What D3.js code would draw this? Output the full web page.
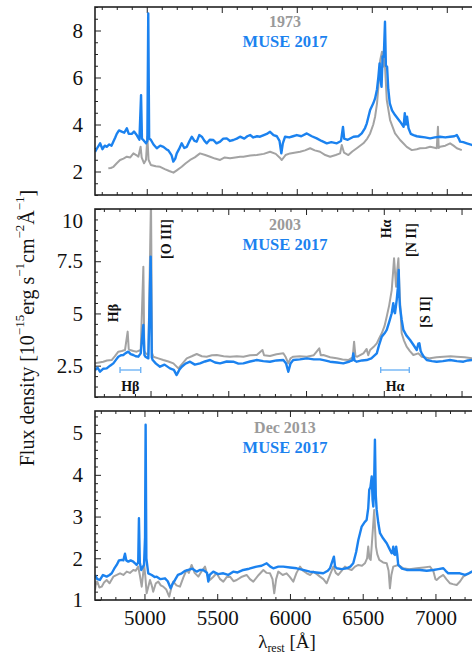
<!DOCTYPE html>
<html><head><meta charset="utf-8">
<script src="https://cdn.jsdelivr.net/npm/d3@7"></script>
<style>
body{margin:0;background:#fff;}
svg{display:block;}
text{font-family:"Liberation Serif","Times New Roman",serif;}
</style></head>
<body>
<script>
// ---------------- DATA ----------------
const xTickValues = [5000, 5500, 6000, 6500, 7000];
const yTicksP1 = [2, 4, 6, 8];
const yTicksP2 = [2.5, 5, 7.5, 10];
const yTicksP3 = [1, 2, 3, 4, 5];
const legendOld = ["1973", "2003", "Dec 2013"];
const legendNew = "MUSE 2017";

const p1Old = [[4744,2.14],[4760,2.15],[4778,2.2],[4800,2.35],[4822,2.49],[4845,2.55],[4867,2.63],[4890,2.6],[4911,2.77],[4930,2.7],[4944,2.63],[4959,3.05],[4966,2.6],[4982,2.35],[4995,2.5],[5004,3.48],[5012,2.5],[5027,2.28],[5060,2.22],[5089,2.2],[5120,2.1],[5150,2.02],[5178,1.95],[5200,2.05],[5233,2.2],[5260,2.35],[5289,2.49],[5320,2.6],[5355,2.77],[5390,2.7],[5422,2.63],[5455,2.55],[5489,2.49],[5520,2.6],[5555,2.56],[5590,2.6],[5622,2.63],[5644,2.63],[5690,2.68],[5733,2.7],[5780,2.75],[5822,2.84],[5860,2.75],[5885,2.6],[5900,2.49],[5925,2.7],[5955,2.77],[6022,2.84],[6055,2.9],[6089,2.99],[6120,2.9],[6155,2.84],[6190,2.7],[6222,2.63],[6260,2.7],[6289,2.77],[6300,3.13],[6315,2.8],[6344,2.7],[6370,2.85],[6400,2.99],[6444,3.2],[6470,3.4],[6489,3.62],[6510,4.0],[6522,4.33],[6535,4.9],[6544,5.6],[6556,6.74],[6568,7.1],[6576,6.46],[6585,6.9],[6592,6.0],[6600,5.04],[6622,4.19],[6655,3.62],[6689,3.34],[6710,3.2],[6733,3.05],[6767,2.91],[6800,2.95],[6822,2.99],[6860,3.0],[6889,3.05],[6933,2.99],[6941,3.9],[6946,3.0],[6955,3.05],[6990,3.1],[7022,3.2],[7045,3.1],[7067,2.99],[7100,2.91]];
const p1Muse = [[4655,2.84],[4670,3.0],[4689,3.2],[4705,2.95],[4720,3.1],[4733,3.05],[4750,3.15],[4765,3.1],[4777,3.27],[4790,3.45],[4800,3.6],[4815,3.75],[4833,3.7],[4850,3.65],[4867,3.84],[4880,3.6],[4900,3.6],[4915,3.7],[4933,3.55],[4951,3.35],[4962,5.25],[4968,3.4],[4977,3.34],[4995,3.2],[5004,3.3],[5010,8.73],[5016,3.4],[5027,3.35],[5045,3.15],[5067,2.99],[5090,3.1],[5111,3.05],[5130,2.95],[5144,2.9],[5165,2.7],[5177,2.42],[5190,2.55],[5200,2.77],[5215,2.95],[5233,3.2],[5250,3.0],[5267,3.05],[5285,3.3],[5300,3.48],[5318,3.3],[5333,3.27],[5350,3.55],[5367,3.48],[5385,3.3],[5400,3.2],[5420,3.35],[5444,3.34],[5465,3.2],[5489,3.27],[5510,3.4],[5533,3.41],[5555,3.3],[5577,3.34],[5600,3.4],[5622,3.48],[5650,3.4],[5670,3.5],[5689,3.55],[5710,3.45],[5735,3.5],[5755,3.48],[5780,3.55],[5800,3.6],[5822,3.69],[5845,3.55],[5867,3.5],[5885,3.3],[5897,2.77],[5907,3.2],[5922,3.48],[5950,3.45],[5975,3.5],[6000,3.55],[6030,3.5],[6067,3.62],[6100,3.5],[6133,3.41],[6165,3.3],[6200,3.2],[6230,3.25],[6267,3.2],[6295,3.3],[6308,3.9],[6316,3.4],[6340,3.35],[6378,3.48],[6410,3.5],[6433,3.62],[6455,3.85],[6467,4.05],[6489,4.62],[6510,4.9],[6522,5.11],[6535,5.5],[6544,6.03],[6552,6.6],[6558,5.9],[6565,5.6],[6572,6.9],[6580,6.88],[6588,8.37],[6594,6.5],[6602,6.46],[6610,5.5],[6620,4.9],[6635,4.6],[6655,4.4],[6689,4.12],[6712,3.9],[6720,4.48],[6727,4.0],[6735,4.33],[6745,3.84],[6760,3.6],[6778,3.55],[6800,3.5],[6822,3.48],[6855,3.45],[6889,3.41],[6920,3.45],[6955,3.48],[6990,3.45],[7022,3.48],[7050,3.5],[7067,3.55],[7080,3.4],[7089,3.27],[7110,3.25],[7133,3.2],[7167,3.13],[7200,3.1]];

const p2Old = [[4643,2.61],[4670,2.65],[4696,2.69],[4720,2.75],[4750,2.77],[4770,2.95],[4793,3.17],[4815,3.2],[4836,3.25],[4853,4.13],[4860,3.3],[4868,3.25],[4890,3.2],[4911,3.17],[4937,3.25],[4954,7.24],[4960,3.2],[4969,3.09],[4986,3.01],[5003,10.5],[5010,3.1],[5018,2.93],[5050,2.85],[5082,2.77],[5115,2.7],[5147,2.61],[5179,2.37],[5205,2.6],[5233,2.85],[5265,2.95],[5297,3.06],[5330,2.95],[5361,2.93],[5395,3.0],[5426,3.01],[5470,2.95],[5511,2.93],[5555,2.95],[5597,2.93],[5640,3.0],[5683,3.01],[5720,3.25],[5730,3.0],[5768,2.96],[5810,3.05],[5854,3.09],[5870,2.9],[5886,2.61],[5900,2.85],[5918,2.93],[5960,2.95],[6005,2.93],[6050,3.0],[6085,3.33],[6095,3.0],[6111,3.01],[6155,2.9],[6197,2.85],[6235,2.8],[6272,2.77],[6300,2.9],[6309,3.65],[6318,2.95],[6330,2.93],[6369,3.09],[6390,3.3],[6400,3.0],[6412,3.25],[6435,3.4],[6455,3.57],[6470,3.8],[6487,4.05],[6505,4.4],[6519,4.85],[6535,5.4],[6551,6.12],[6560,7.0],[6566,7.64],[6573,6.9],[6579,6.28],[6587,7.1],[6594,7.64],[6600,6.3],[6604,5.64],[6615,4.05],[6630,3.7],[6647,3.41],[6668,3.2],[6690,3.01],[6722,3.09],[6744,2.93],[6797,2.85],[6840,2.9],[6883,2.93],[6930,2.95],[6969,2.93],[7020,2.9],[7068,2.85],[7120,2.88],[7200,2.85]];
const p2Muse = [[4643,2.29],[4660,2.4],[4675,2.21],[4695,2.35],[4718,2.37],[4740,2.5],[4761,2.61],[4780,2.8],[4793,2.93],[4810,3.0],[4825,3.01],[4840,3.1],[4857,3.17],[4872,3.05],[4889,3.01],[4905,2.95],[4921,2.93],[4937,3.09],[4954,4.45],[4961,3.0],[4967,2.93],[4986,2.85],[5001,7.72],[5008,2.9],[5014,2.77],[5035,2.6],[5061,2.45],[5090,2.55],[5125,2.37],[5150,2.3],[5168,2.05],[5185,2.3],[5201,2.45],[5225,2.6],[5254,2.69],[5285,2.55],[5318,2.61],[5350,2.7],[5383,2.77],[5415,2.65],[5447,2.61],[5490,2.7],[5532,2.69],[5565,2.6],[5597,2.61],[5640,2.7],[5683,2.77],[5725,2.72],[5768,2.69],[5810,2.75],[5854,2.77],[5872,2.6],[5886,2.21],[5900,2.6],[5918,2.77],[5960,2.8],[6005,2.85],[6050,2.8],[6090,2.8],[6120,2.75],[6154,2.69],[6200,2.65],[6240,2.61],[6280,2.7],[6298,2.75],[6304,3.09],[6312,2.75],[6326,2.69],[6360,2.75],[6390,2.77],[6420,2.85],[6455,3.09],[6470,3.5],[6487,3.89],[6505,4.05],[6519,4.21],[6535,4.6],[6551,5.01],[6561,5.49],[6567,5.1],[6572,5.01],[6583,5.64],[6590,6.2],[6596,7.08],[6600,5.8],[6604,5.32],[6615,4.7],[6626,4.21],[6645,3.95],[6669,3.73],[6690,3.5],[6712,3.25],[6722,3.55],[6729,3.57],[6737,3.2],[6744,3.09],[6760,2.9],[6776,2.77],[6810,2.72],[6840,2.69],[6880,2.72],[6926,2.77],[6970,2.72],[7012,2.69],[7040,2.75],[7068,2.77],[7120,2.75],[7200,2.75]];

const p3Old = [[4660,1.24],[4668,1.44],[4676,1.44],[4690,1.3],[4706,1.32],[4722,1.42],[4740,1.48],[4760,1.4],[4786,1.56],[4810,1.6],[4832,1.64],[4855,1.6],[4878,1.68],[4900,1.65],[4923,1.72],[4940,1.7],[4957,1.8],[4968,1.6],[4981,1.32],[4990,1.6],[4997,1.88],[5005,1.6],[5015,1.16],[5025,1.3],[5038,1.48],[5050,1.35],[5060,1.2],[5078,1.4],[5095,1.44],[5112,1.35],[5129,1.32],[5150,1.25],[5170,1.08],[5185,1.3],[5198,1.44],[5220,1.35],[5244,1.32],[5268,1.55],[5290,1.72],[5305,1.65],[5324,1.84],[5345,1.65],[5370,1.56],[5395,1.7],[5416,1.8],[5432,1.6],[5450,1.48],[5472,1.55],[5496,1.64],[5520,1.5],[5542,1.44],[5565,1.55],[5588,1.56],[5612,1.45],[5634,1.48],[5665,1.55],[5702,1.6],[5725,1.5],[5748,1.44],[5785,1.6],[5817,1.72],[5840,1.65],[5863,1.64],[5880,1.5],[5892,1.16],[5905,1.5],[5920,1.68],[5950,1.6],[5977,1.64],[6000,1.55],[6023,1.44],[6045,1.65],[6069,1.8],[6090,1.7],[6115,1.64],[6140,1.6],[6160,1.68],[6185,1.62],[6206,1.56],[6230,1.5],[6252,1.4],[6275,1.6],[6298,1.8],[6315,1.65],[6332,1.6],[6355,1.7],[6378,1.8],[6400,1.75],[6424,1.72],[6447,1.8],[6470,1.84],[6495,1.82],[6515,1.88],[6530,2.0],[6538,2.28],[6546,2.0],[6555,1.96],[6562,2.3],[6568,2.6],[6574,2.9],[6579,3.16],[6585,2.7],[6591,2.28],[6600,2.1],[6614,1.96],[6640,1.9],[6665,1.88],[6678,1.7],[6687,1.28],[6697,1.6],[6710,1.8],[6744,1.84],[6779,1.76],[6820,1.74],[6871,1.76],[6920,1.78],[6962,1.8],[6985,1.7],[7000,1.5],[7008,1.48],[7030,1.55],[7054,1.6],[7075,1.5],[7100,1.4],[7120,1.38],[7146,1.36],[7170,1.45],[7191,1.56],[7220,1.62],[7251,1.68],[7300,1.68]];
const p3Muse = [[4660,1.6],[4676,1.5],[4694,1.48],[4715,1.6],[4740,1.56],[4760,1.6],[4775,1.64],[4792,1.75],[4809,1.84],[4825,1.95],[4843,1.96],[4855,1.95],[4866,2.11],[4875,1.95],[4889,1.92],[4905,1.95],[4923,1.92],[4935,1.88],[4946,1.84],[4957,1.9],[4962,2.96],[4968,1.9],[4978,1.72],[4990,1.8],[4997,1.84],[5004,2.5],[5008,5.2],[5013,2.0],[5026,1.64],[5050,1.6],[5070,1.55],[5084,1.56],[5110,1.5],[5141,1.52],[5160,1.45],[5180,1.28],[5195,1.4],[5210,1.48],[5230,1.6],[5256,1.64],[5280,1.7],[5301,1.72],[5330,1.75],[5359,1.68],[5380,1.72],[5404,1.72],[5430,1.65],[5439,1.44],[5448,1.6],[5473,1.68],[5505,1.62],[5542,1.64],[5575,1.6],[5610,1.68],[5640,1.66],[5679,1.72],[5720,1.75],[5771,1.8],[5805,1.82],[5840,1.88],[5865,1.8],[5885,1.76],[5920,1.8],[5954,1.8],[6000,1.78],[6046,1.76],[6090,1.72],[6137,1.68],[6180,1.66],[6229,1.64],[6260,1.7],[6275,1.76],[6302,2.04],[6310,1.8],[6321,1.76],[6355,1.74],[6390,1.76],[6415,1.8],[6435,1.88],[6455,2.15],[6470,2.44],[6493,2.76],[6510,2.85],[6527,2.92],[6538,3.2],[6545,3.64],[6553,3.7],[6562,3.96],[6568,3.4],[6573,3.24],[6579,3.9],[6584,4.84],[6590,3.5],[6596,3.16],[6607,2.85],[6619,2.6],[6640,2.48],[6665,2.36],[6685,2.22],[6699,2.12],[6705,2.15],[6710,2.28],[6716,2.1],[6722,2.08],[6730,2.28],[6737,2.1],[6744,1.84],[6770,1.75],[6802,1.72],[6850,1.72],[6893,1.72],[6940,1.7],[6985,1.72],[7020,1.74],[7054,1.76],[7070,1.7],[7088,1.64],[7130,1.64],[7168,1.64],[7203,1.6],[7230,1.64],[7251,1.68],[7300,1.68]];

// emission-line labels in panel 2 and the wavelength windows
const lineLabels = [["Hβ", 4759], ["[O III]", 5105], ["Hα", 6520], ["[N II]", 6680], ["[S II]", 6765]];
const windows = [["Hβ", 4804, 4937], ["Hα", 6480, 6664]];

// ---------------- LAYOUT ----------------
const W = 472, H = 668;
const BLUE = "#1b82ef", GRAY = "#a3a3a3";
const panels = [
  {top: 7,   bottom: 195, xd: [4655, 7300], xr: [95, 491.8], yd: [1, 9],    yt: yTicksP1, minor: 0.5, old: p1Old, muse: p1Muse, lab: legendOld[0], labY: 21},
  {top: 209, bottom: 397, xd: [4643, 7300], xr: [95, 508.2], yd: [1, 10],   yt: yTicksP2, minor: 0.5, old: p2Old, muse: p2Muse, lab: legendOld[1], labY: 224},
  {top: 411, bottom: 600, xd: [4660, 7300], xr: [95, 479.1], yd: [1, 5.53], yt: yTicksP3, minor: 0.2, old: p3Old, muse: p3Muse, lab: legendOld[2], labY: 427}
];

const svg = d3.select("body").append("svg").attr("width", W).attr("height", H);

panels.forEach((p, i) => {
  const x = d3.scaleLinear().domain(p.xd).range(p.xr);
  const y = d3.scaleLinear().domain(p.yd).range([p.bottom, p.top]);
  const g = svg.append("g");
  const cid = "clip" + i;
  svg.append("clipPath").attr("id", cid).append("rect")
    .attr("x", p.xr[0]).attr("y", p.top).attr("width", p.xr[1] - p.xr[0]).attr("height", p.bottom - p.top);

  const minorX = d3.range(4700, 7300, 100).filter(v => v % 500 !== 0);
  const minorY = d3.range(p.yd[0], p.yd[1] + 1e-6, p.minor).map(v => +v.toFixed(3)).filter(v => !p.yt.some(t => Math.abs(t - v) < 1e-6));

  // minor ticks
  const axMinorB = d3.axisBottom(x).tickValues(minorX).tickSize(-3).tickFormat("");
  const axMinorT = d3.axisTop(x).tickValues(minorX).tickSize(-3).tickFormat("");
  const axMinorL = d3.axisLeft(y).tickValues(minorY).tickSize(-3).tickFormat("");
  g.append("g").attr("transform", `translate(0,${p.bottom})`).call(axMinorB);
  g.append("g").attr("transform", `translate(0,${p.top})`).call(axMinorT);
  g.append("g").attr("transform", `translate(${p.xr[0]},0)`).call(axMinorL);

  // major ticks
  const axB = d3.axisBottom(x).tickValues(xTickValues).tickSize(-6).tickPadding(10)
    .tickFormat(i === 2 ? d3.format("d") : "");
  const axT = d3.axisTop(x).tickValues(xTickValues).tickSize(-6).tickFormat("");
  const axL = d3.axisLeft(y).tickValues(p.yt).tickSize(-6).tickPadding(12).tickFormat(d => String(d));
  g.append("g").attr("class", "xb").attr("transform", `translate(0,${p.bottom})`).call(axB);
  g.append("g").attr("transform", `translate(0,${p.top})`).call(axT);
  const gl = g.append("g").attr("class", "yl").attr("transform", `translate(${p.xr[0]},0)`).call(axL);
  if (i === 1) gl.selectAll(".tick").filter(d => d === 10).select("text").attr("dy", "0.9em");

  g.selectAll(".domain").remove();
  g.selectAll(".tick line").attr("stroke", "#222").attr("stroke-width", 1);
  g.selectAll(".tick text").attr("font-size", 21).attr("fill", "#111");

  // series
  const line = d3.line().x(d => x(d[0])).y(d => y(d[1]));
  const lg = svg.append("g").attr("clip-path", `url(#${cid})`);
  lg.append("path").datum(p.old).attr("d", line).attr("fill", "none")
    .attr("stroke", GRAY).attr("stroke-width", 2).attr("stroke-linejoin", "round");
  lg.append("path").datum(p.muse).attr("d", line).attr("fill", "none")
    .attr("stroke", BLUE).attr("stroke-width", 2.4).attr("stroke-linejoin", "round");

  // frame
  svg.append("rect").attr("x", p.xr[0]).attr("y", p.top)
    .attr("width", p.xr[1] - p.xr[0]).attr("height", p.bottom - p.top)
    .attr("fill", "none").attr("stroke", "#222").attr("stroke-width", 1.6);

  // legend
  const lx = 285;
  svg.append("text").attr("x", lx).attr("y", p.labY).attr("text-anchor", "middle")
    .attr("dominant-baseline", "central").attr("font-size", 16).attr("font-weight", "bold")
    .attr("fill", "#9a9a9a").text(p.lab);
  svg.append("text").attr("x", lx).attr("y", p.labY + 20).attr("text-anchor", "middle")
    .attr("dominant-baseline", "central").attr("font-size", 16.5).attr("font-weight", "bold")
    .attr("fill", BLUE).text(legendNew);

  if (i === 1) {
    // rotated line labels
    const ly = {"Hβ": 313, "[O III]": 239, "Hα": 229, "[N II]": 240, "[S II]": 312};
    lineLabels.forEach(([t, lam]) => {
      const px = x(lam);
      svg.append("text").attr("transform", `translate(${px},${ly[t]}) rotate(-90)`)
        .attr("text-anchor", "middle").attr("dominant-baseline", "central")
        .attr("font-size", 14).attr("font-weight", "bold").attr("fill", "#111").text(t);
    });
    windows.forEach(([t, a, b]) => {
      const wy = 370;
      const wg = svg.append("g").attr("stroke", "#6fb3f5").attr("stroke-width", 1.4);
      wg.append("line").attr("x1", x(a)).attr("x2", x(b)).attr("y1", wy).attr("y2", wy);
      wg.append("line").attr("x1", x(a)).attr("x2", x(a)).attr("y1", wy - 3).attr("y2", wy + 3);
      wg.append("line").attr("x1", x(b)).attr("x2", x(b)).attr("y1", wy - 3).attr("y2", wy + 3);
      svg.append("text").attr("x", (x(a) + x(b)) / 2).attr("y", 386).attr("text-anchor", "middle")
        .attr("dominant-baseline", "central").attr("font-size", 14).attr("font-weight", "bold")
        .attr("fill", "#111").text(t);
    });
  }
});

// axis titles
const yt = svg.append("text").attr("transform", "translate(27,328) rotate(-90)")
  .attr("text-anchor", "middle").attr("dominant-baseline", "central")
  .attr("font-size", 20).attr("fill", "#111");
yt.append("tspan").text("Flux density [10");
yt.append("tspan").attr("dy", -8).attr("font-size", 13).text("−15");
yt.append("tspan").attr("dy", 8).text("erg s");
yt.append("tspan").attr("dy", -8).attr("font-size", 13).text("−1");
yt.append("tspan").attr("dy", 8).text("cm");
yt.append("tspan").attr("dy", -8).attr("font-size", 13).text("−2");
yt.append("tspan").attr("dy", 8).text("Å");
yt.append("tspan").attr("dy", -8).attr("font-size", 13).text("−1");
yt.append("tspan").attr("dy", 8).text("]");

const xt = svg.append("text").attr("x", 287).attr("y", 648).attr("text-anchor", "middle")
  .attr("font-size", 19).attr("fill", "#111");
xt.append("tspan").text("λ");
xt.append("tspan").attr("dy", 4).attr("font-size", 12).text("rest");
xt.append("tspan").attr("dy", -4).text(" [Å]");
</script>
</body></html>
